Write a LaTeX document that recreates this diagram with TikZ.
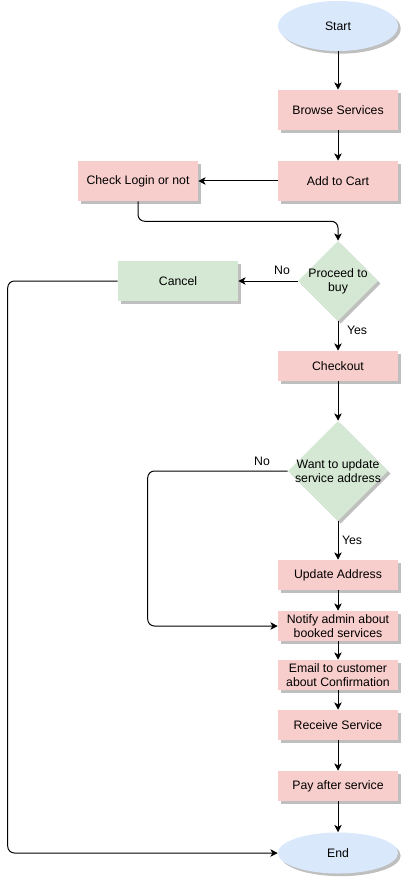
\documentclass[tikz,border=0pt]{standalone}
\usepackage{fontspec}
\setmainfont{Liberation Sans}
\usetikzlibrary{shapes.geometric,shadows,arrows.meta}

\definecolor{boxpink}{HTML}{F8CECC}
\definecolor{boxgreen}{HTML}{D5E8D4}
\definecolor{termblue}{HTML}{DAE8FC}

\tikzset{
  boxshadow/.style={drop shadow={shadow xshift=2pt, shadow yshift=-2pt, fill=black!25, opacity=1}},
  stepbox/.style={rectangle, fill=boxpink, minimum width=90pt, minimum height=#1,
    inner sep=1pt, align=center, boxshadow},
  stepbox/.default=22.5pt,
  cancelbox/.style={stepbox=30pt, fill=boxgreen},
  terminal/.style={ellipse, fill=termblue, minimum width=90pt, minimum height=#1,
    inner sep=0pt, boxshadow},
  decision/.style={diamond, aspect=1, fill=boxgreen, inner sep=0pt, minimum size=#1, boxshadow},
  flow/.style={-{Stealth[length=5.5pt, width=5.5pt, inset=1.5pt]}, line width=0.75pt},
}

\begin{document}
\begin{tikzpicture}[x=0.75pt, y=-0.75pt, font=\fontsize{9.2}{10.5}\selectfont]

    \useasboundingbox (0,0) rectangle (401,880);

    % Main column of steps
    \node[terminal=37.5pt] (start) at (338,26) {Start};
    \node[stepbox=30pt] (browse) at (338,110) {Browse Services};
    \node[stepbox=30pt] (cart) at (338,181) {Add to Cart};
    \node[stepbox=30pt] (login) at (138,181) {Check Login or not};

    % First decision
    \node[decision=60pt] (buy) at (338,281) {};
    \node[align=center] (buytext) at (buy) {Proceed to\\buy};
    \node[cancelbox] (cancel) at (178,281) {Cancel};

    \node[stepbox] (checkout) at (338,366) {Checkout};

    % Second decision
    \node[decision=75pt] (addr) at (338,471) {};
    \node[align=center] (addrtext) at (addr) {Want to update\\service address};

    \node[stepbox] (update) at (338,575) {Update Address};
    \node[stepbox] (notify) at (338,626) {Notify admin about\\booked services};
    \node[stepbox] (email) at (338,675) {Email to customer\\about Confirmation};
    \node[stepbox] (receive) at (338,725) {Receive Service};
    \node[stepbox] (pay) at (338,786) {Pay after service};
    \node[terminal=30.75pt] (finish) at (338,853) {End};

    % Connectors
    \draw[flow] (start) -- (browse);
    \draw[flow] (browse) -- (cart);
    \draw[flow] (cart) -- (login);
    \draw[flow, rounded corners=5pt] (login.south) -- ++(0,20) -| (buy.north);

    \draw[flow] (buy.west) -- (cancel.east);
    \node (buyno) at (282,270) {No};
    \draw[flow] (buy.south) -- (checkout);
    \node (buyyes) at (357,330) {Yes};

    \draw[flow] (checkout) -- (addr.north);
    \draw[flow, rounded corners=5pt] (addr.west) -- ++(-140,0) |- (notify.west);
    \node (addrno) at (262,461) {No};
    \draw[flow] (addr.south) -- (update);
    \node (addryes) at (352,540) {Yes};

    \draw[flow] (update) -- (notify);
    \draw[flow] (notify) -- (email);
    \draw[flow] (email) -- (receive);
    \draw[flow] (receive) -- (pay);
    \draw[flow] (pay) -- (finish);

    % Cancel goes straight to the end
    \draw[flow, rounded corners=5pt] (cancel.west) -- ++(-110,0) |- (finish.west);

\end{tikzpicture}
\end{document}
